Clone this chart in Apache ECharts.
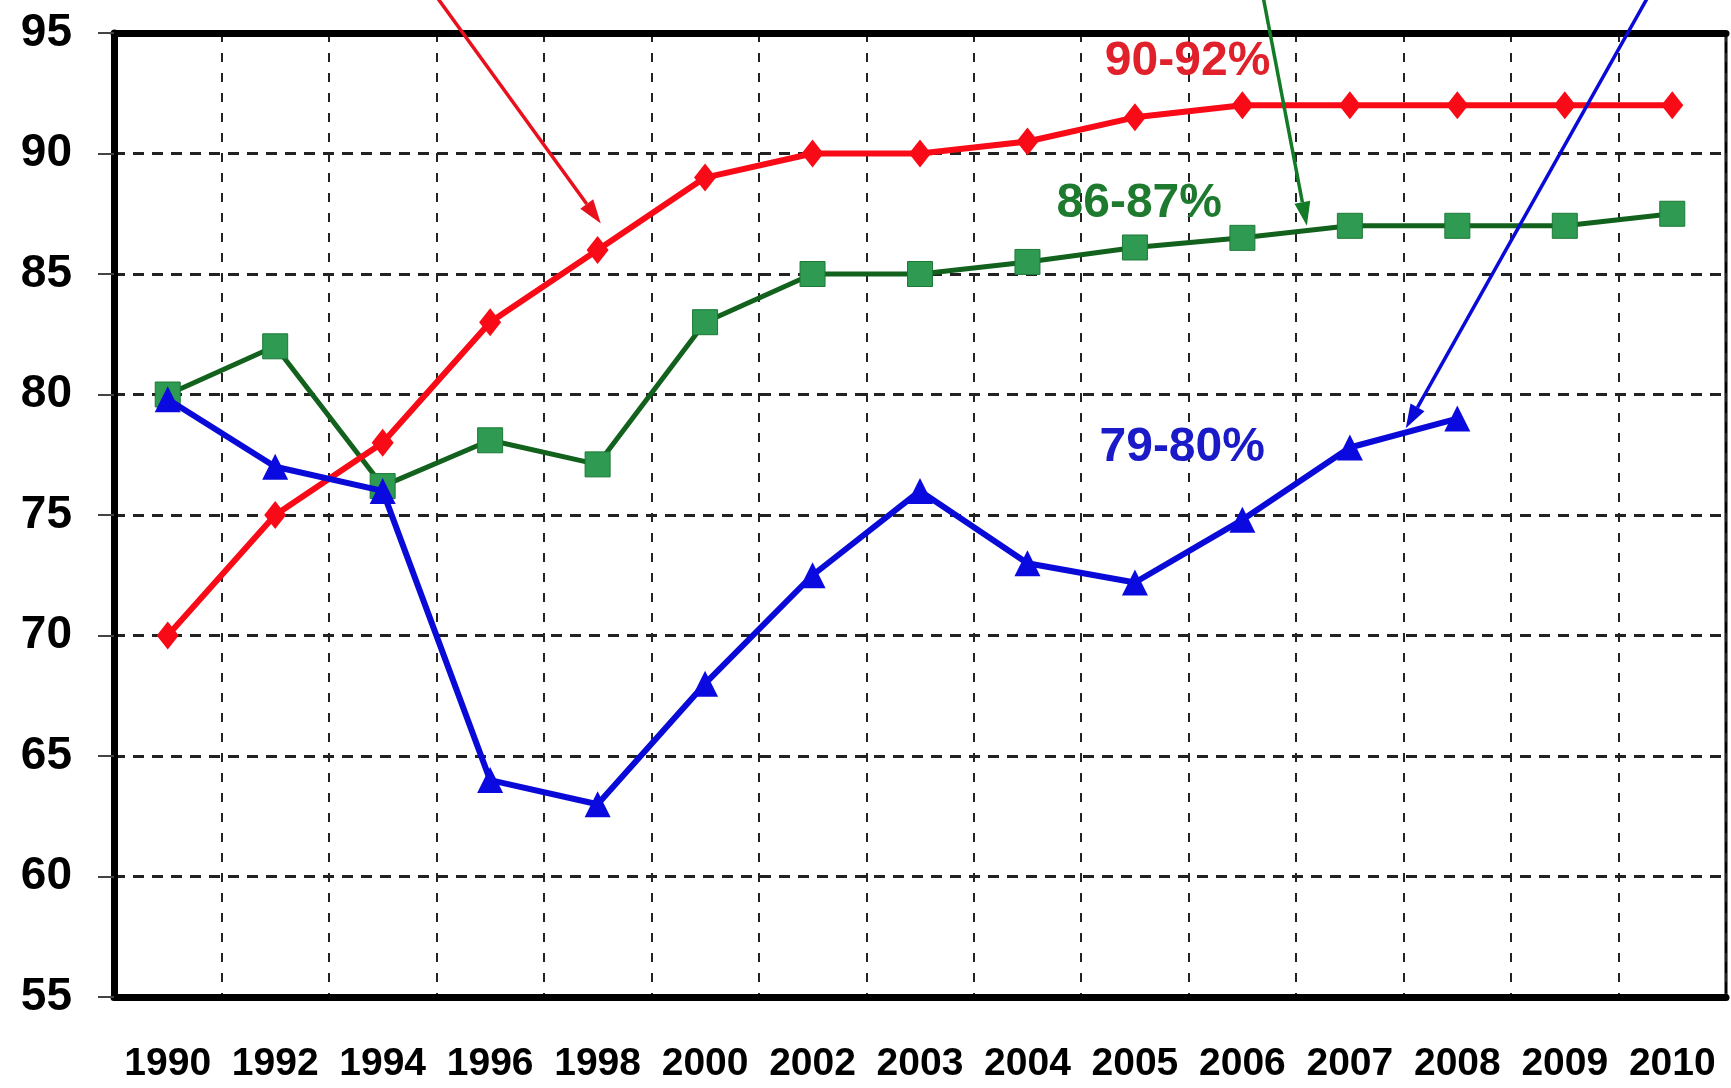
<!DOCTYPE html>
<html>
<head>
<meta charset="utf-8">
<script src="https://cdn.jsdelivr.net/npm/echarts@6/dist/echarts.min.js"></script>
<style>
  html, body { margin: 0; padding: 0; background: #fff; }
  #chart { width: 1731px; height: 1088px; }
</style>
</head>
<body>
<div id="chart"></div>
<script>
const years = ['1990', '1992', '1994', '1996', '1998', '2000', '2002', '2003', '2004', '2005', '2006', '2007', '2008', '2009', '2010']
const redValues = [70, 75, 78, 83, 86, 89, 90, 90, 90.5, 91.5, 92, 92, 92, 92, 92]
const greenValues = [80, 82, 76.2, 78.1, 77.1, 83, 85, 85, 85.5, 86.1, 86.5, 87, 87, 87, 87.5]
const blueValues = [79.8, 77, 76, 64, 63, 68, 72.5, 76, 73, 72.2, 74.8, 77.8, 79, null, null]

// annotation arrows, x is the category index: [fromX, fromY, toX, toY]
const arrows = [
  [2.34, 97.5, 4.03, 87.1],
  [10.15, 97.5, 10.6, 87.0],
  [13.9, 97.5, 11.52, 78.6]
]
const arrowColors = ['#e8101c', '#137a26', '#0a0ad8']

// percentage notes: [x, y]
const notes = [
  [9.49, 93.8],
  [9.04, 87.9],
  [9.44, 77.8]
]
const noteTexts = ['90-92%', '86-87%', '79-80%']
const noteColors = ['#e0202a', '#1e7a2e', '#1a1ac8']

const FONT = '"Liberation Sans", Arial, sans-serif'

const chart = echarts.init(document.getElementById('chart'))

function renderArrow(params, api) {
  const p0 = api.coord([api.value(0), api.value(1)])
  const p1 = api.coord([api.value(2), api.value(3)])
  const color = arrowColors[params.dataIndex]
  const ang = Math.atan2(p1[1] - p0[1], p1[0] - p0[0])
  const len = 24
  const half = 8
  const bx = p1[0] - len * Math.cos(ang)
  const by = p1[1] - len * Math.sin(ang)
  const nx = -Math.sin(ang) * half
  const ny = Math.cos(ang) * half
  return {
    type: 'group',
    children: [
      {
        type: 'line',
        shape: { x1: p0[0], y1: p0[1], x2: bx, y2: by },
        style: { stroke: color, lineWidth: 3.5 }
      },
      {
        type: 'polygon',
        shape: { points: [[p1[0], p1[1]], [bx + nx, by + ny], [bx - nx, by - ny]] },
        style: { fill: color }
      }
    ]
  }
}

function renderNote(params, api) {
  const p = api.coord([api.value(0), api.value(1)])
  return {
    type: 'text',
    x: p[0],
    y: p[1],
    style: {
      text: noteTexts[params.dataIndex],
      fill: noteColors[params.dataIndex],
      font: 'bold 48px ' + FONT,
      align: 'center',
      verticalAlign: 'middle'
    }
  }
}

chart.setOption({
  animation: false,
  backgroundColor: '#fff',
  grid: {
    left: 114, right: 5, top: 33, bottom: 91,
    show: true, borderColor: '#000', borderWidth: 3
  },
  xAxis: [
    {
      type: 'category',
      data: years,
      boundaryGap: true,
      axisLine: { onZero: false, lineStyle: { color: '#000', width: 7 } },
      axisTick: { show: false },
      axisLabel: {
        interval: 0, margin: 48, color: '#000',
        fontSize: 39, fontWeight: 'bold', fontFamily: FONT
      },
      splitLine: {
        show: true, interval: 0,
        lineStyle: { color: '#222', width: 2, type: [9, 11] }
      }
    },
    {
      type: 'value',
      position: 'top',
      min: -0.5,
      max: 14.5,
      axisLine: { show: true, onZero: false, lineStyle: { color: '#000', width: 7 } },
      axisTick: { show: false },
      axisLabel: { show: false },
      splitLine: { show: false }
    }
  ],
  yAxis: {
    type: 'value',
    min: 55,
    max: 95,
    interval: 5,
    axisLine: { show: true, onZero: false, lineStyle: { color: '#000', width: 7 } },
    axisTick: { show: true, length: 16, lineStyle: { color: '#444', width: 2 } },
    axisLabel: {
      margin: 42, color: '#000',
      fontSize: 46, fontWeight: 'bold', fontFamily: FONT
    },
    splitLine: { lineStyle: { color: '#222', width: 3, type: [11, 8] } }
  },
  series: [
    {
      name: 'green',
      type: 'line',
      data: greenValues,
      symbol: 'rect',
      symbolSize: 25,
      lineStyle: { color: '#12621e', width: 5 },
      itemStyle: { color: '#2e9a52', borderColor: '#1d7a36', borderWidth: 1 },
      z: 3
    },
    {
      name: 'red',
      type: 'line',
      data: redValues,
      symbol: 'diamond',
      symbolSize: [22, 28],
      lineStyle: { color: '#f80a16', width: 6 },
      itemStyle: { color: '#f80a16' },
      z: 4
    },
    {
      name: 'blue',
      type: 'line',
      data: blueValues,
      symbol: 'triangle',
      symbolSize: 26,
      lineStyle: { color: '#0a0ad8', width: 6 },
      itemStyle: { color: '#0a0ae0' },
      z: 5
    },
    {
      type: 'custom',
      xAxisIndex: 1,
      yAxisIndex: 0,
      data: arrows,
      renderItem: renderArrow,
      clip: false,
      silent: true,
      z: 6
    },
    {
      type: 'custom',
      xAxisIndex: 1,
      yAxisIndex: 0,
      data: notes,
      renderItem: renderNote,
      clip: false,
      silent: true,
      z: 7
    }
  ]
})
</script>
</body>
</html>
